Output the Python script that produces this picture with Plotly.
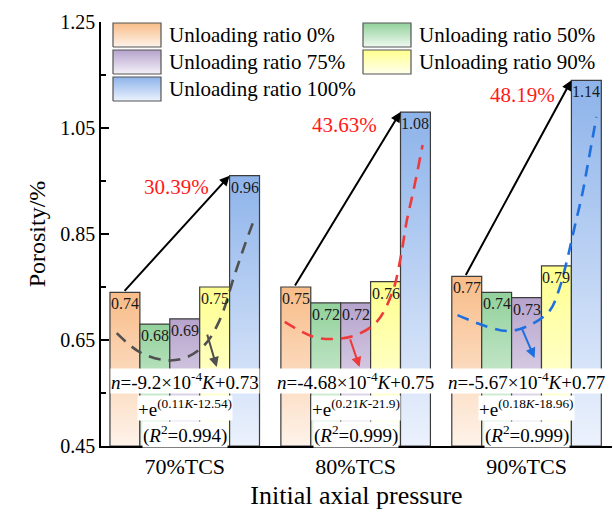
import plotly.graph_objects as go

# ---------------- data ----------------
categories = ["70%TCS", "80%TCS", "90%TCS"]
series_names = ["Unloading ratio 0%", "Unloading ratio 50%", "Unloading ratio 75%",
                "Unloading ratio 90%", "Unloading ratio 100%"]
porosity_ratio_0 = [0.74, 0.75, 0.77]
porosity_ratio_50 = [0.68, 0.72, 0.74]
porosity_ratio_75 = [0.69, 0.72, 0.73]
porosity_ratio_90 = [0.75, 0.76, 0.79]
porosity_ratio_100 = [0.96, 1.08, 1.14]
increase_labels = ["30.39%", "43.63%", "48.19%"]

eq_line1 = ["<i>n</i>=-9.2×10<sup>-4</sup><i>K</i>+0.73",
            "<i>n</i>=-4.68×10<sup>-4</sup><i>K</i>+0.75",
            "<i>n</i>=-5.67×10<sup>-4</sup><i>K</i>+0.77"]
eq_line2 = ["+e<sup>(0.11<i>K</i>-12.54)</sup>",
            "+e<sup>(0.21<i>K</i>-21.9)</sup>",
            "+e<sup>(0.18<i>K</i>-18.96)</sup>"]
eq_line3 = ["(<i>R</i><sup>2</sup>=0.994)",
            "(<i>R</i><sup>2</sup>=0.999)",
            "(<i>R</i><sup>2</sup>=0.999)"]

# dashed fitting curves (offset from group centre, porosity)
fit_offset_70 = [-0.398, -0.263, -0.117, 0.0, 0.117, 0.205, 0.292, 0.351, 0.409]
fit_value_70 = [0.663, 0.627, 0.612, 0.616, 0.641, 0.688, 0.773, 0.829, 0.880]
fit_offset_80 = [-0.415, -0.246, -0.117, 0.0, 0.123, 0.216, 0.263, 0.298, 0.339, 0.392]
fit_value_80 = [0.684, 0.656, 0.652, 0.659, 0.684, 0.741, 0.805, 0.873, 0.933, 1.018]
fit_offset_90 = [-0.404, -0.228, -0.099, 0.018, 0.135, 0.193, 0.240, 0.281, 0.327, 0.363, 0.409]
fit_value_90 = [0.697, 0.675, 0.667, 0.678, 0.705, 0.748, 0.805, 0.863, 0.927, 0.990, 1.071]

# small arrows from curve to equation (offset, porosity)
small_arrow_tail_offset = [0.129, -0.035, -0.029]
small_arrow_tail_value = [0.663, 0.654, 0.673]
small_arrow_head_offset = [0.187, 0.023, 0.047]
small_arrow_head_value = [0.599, 0.599, 0.616]

# red increase labels (offset, porosity)
increase_label_offset = [-0.05, -0.064, -0.022]
increase_label_value = [0.939, 1.056, 1.112]

# ---------------- style ----------------
FONT = "Liberation Serif"
series_values = [porosity_ratio_0, porosity_ratio_50, porosity_ratio_75,
                 porosity_ratio_90, porosity_ratio_100]
top_colors = ["#F8BC88", "#92D19B", "#B6A3CD", "#FFFF8E", "#8DB3EA"]
bottom_colors = ["#FEF3EA", "#EFF9F0", "#F4F1F8", "#FFFFEE", "#ECF2FD"]
curve_colors = ["#505050", "#EE3A3A", "#1F6FDF"]
bar_w = 0.175
offsets = [-2 * bar_w, -bar_w, 0.0, bar_w, 2 * bar_w]
Y0, Y1 = 0.45, 1.25
X0, X1 = -0.49, 2.5

fig = go.Figure()

# bars (gradient filled)
for s, vals in enumerate(series_values):
    for g, v in enumerate(vals):
        xl = g + offsets[s] - bar_w / 2
        xr = g + offsets[s] + bar_w / 2
        fig.add_trace(go.Scatter(
            x=[xl, xr, xr, xl, xl], y=[Y0, Y0, v, v, Y0],
            mode="lines", fill="toself",
            fillgradient=dict(type="vertical",
                              colorscale=[[0, bottom_colors[s]], [1, top_colors[s]]],
                              start=Y0, stop=v),
            line=dict(color="#3c3c3c", width=1.2),
            showlegend=False, hoverinfo="skip"))
        fig.add_annotation(x=g + offsets[s], y=v, text=f"{v:.2f}", showarrow=False,
                           yanchor="top", yshift=-1, font=dict(family=FONT, size=16, color="#1a1a1a"))

# dashed fit curves
fit_offsets = [fit_offset_70, fit_offset_80, fit_offset_90]
fit_values = [fit_value_70, fit_value_80, fit_value_90]
for g in range(3):
    fig.add_trace(go.Scatter(
        x=[g + o for o in fit_offsets[g]], y=fit_values[g], mode="lines",
        line=dict(color=curve_colors[g], width=2.6, dash="12px,8px", shape="spline"),
        showlegend=False, hoverinfo="skip"))

# arrows, labels, equations
for g in range(3):
    fig.add_annotation(x=g + offsets[4] - bar_w / 2, y=porosity_ratio_100[g],
                       ax=g + offsets[0] - 0.01, ay=porosity_ratio_0[g],
                       xref="x", yref="y", axref="x", ayref="y", text="",
                       showarrow=True, arrowhead=2, arrowsize=1, arrowwidth=2, arrowcolor="black")
    fig.add_annotation(x=g + small_arrow_head_offset[g], y=small_arrow_head_value[g],
                       ax=g + small_arrow_tail_offset[g], ay=small_arrow_tail_value[g],
                       xref="x", yref="y", axref="x", ayref="y", text="",
                       showarrow=True, arrowhead=2, arrowsize=1, arrowwidth=2,
                       arrowcolor=curve_colors[g])
    fig.add_annotation(x=g + increase_label_offset[g], y=increase_label_value[g],
                       text=increase_labels[g], showarrow=False,
                       font=dict(family=FONT, size=21, color="#FF1A1A"))
    fig.add_annotation(x=g, y=0.573, text=eq_line1[g], showarrow=False, bgcolor="white",
                       borderpad=0, font=dict(family=FONT, size=19, color="black"))
    fig.add_annotation(x=g, y=0.522, text=eq_line2[g], showarrow=False, bgcolor="white",
                       borderpad=0, font=dict(family=FONT, size=19, color="black"))
    fig.add_annotation(x=g, y=0.471, text=eq_line3[g], showarrow=False, bgcolor="white",
                       borderpad=0, font=dict(family=FONT, size=19, color="black"))

# manual legend on an overlay axis (0..1 of plot area)
L, R, T, B = 101, 612, 22, 446
def fx(px):
    return (px - L) / (R - L)
def fy(py):
    return (B - py) / (B - T)
legend_slots = [(0, 0), (0, 1), (1, 0), (1, 1), (2, 0)]
col_left = [113, 363]
for s, (r, c) in enumerate(legend_slots):
    top = 23 + 27 * r
    bot = top + 24
    xl, xr = fx(col_left[c]), fx(col_left[c] + 48)
    yb, yt = fy(bot), fy(top)
    fig.add_trace(go.Scatter(
        x=[xl, xr, xr, xl, xl], y=[yb, yb, yt, yt, yb], xaxis="x2", yaxis="y2",
        mode="lines", fill="toself",
        fillgradient=dict(type="vertical",
                          colorscale=[[0, bottom_colors[s]], [1, top_colors[s]]],
                          start=yb, stop=yt),
        line=dict(color="#555555", width=1.2), showlegend=False, hoverinfo="skip"))
    fig.add_annotation(x=fx(col_left[c] + 54), y=fy(top + 12), xref="x2", yref="y2",
                       text=series_names[s], showarrow=False, xanchor="left", yanchor="middle",
                       font=dict(family=FONT, size=21, color="black"))

fig.update_layout(
    width=613, height=518,
    margin=dict(l=L, r=613 - R, t=T, b=518 - B),
    paper_bgcolor="white", plot_bgcolor="white",
    showlegend=False,
    font=dict(family=FONT, color="black"),
    xaxis=dict(range=[X0, X1], tickvals=[0, 1, 2], ticktext=categories,
               showline=True, linecolor="black", linewidth=1.5, ticks="",
               showgrid=False, zeroline=False, tickfont=dict(family=FONT, size=22),
               title=dict(text="Initial axial pressure", font=dict(family=FONT, size=26), standoff=8)),
    yaxis=dict(range=[Y0, Y1], tick0=0.45, dtick=0.2, tickformat=".2f",
               ticks="inside", ticklen=8, tickwidth=1.5, tickcolor="black",
               minor=dict(ticks="inside", ticklen=5, tickwidth=1.5, dtick=0.1, tick0=0.45, tickcolor="black"),
               showline=True, linecolor="black", linewidth=1.5,
               showgrid=False, zeroline=False, tickfont=dict(family=FONT, size=20),
               title=dict(text="Porosity/%", font=dict(family=FONT, size=24), standoff=8)),
    xaxis2=dict(overlaying="x", range=[0, 1], visible=False, fixedrange=True),
    yaxis2=dict(overlaying="y", range=[0, 1], visible=False, fixedrange=True),
)

fig.write_html("out.html")
